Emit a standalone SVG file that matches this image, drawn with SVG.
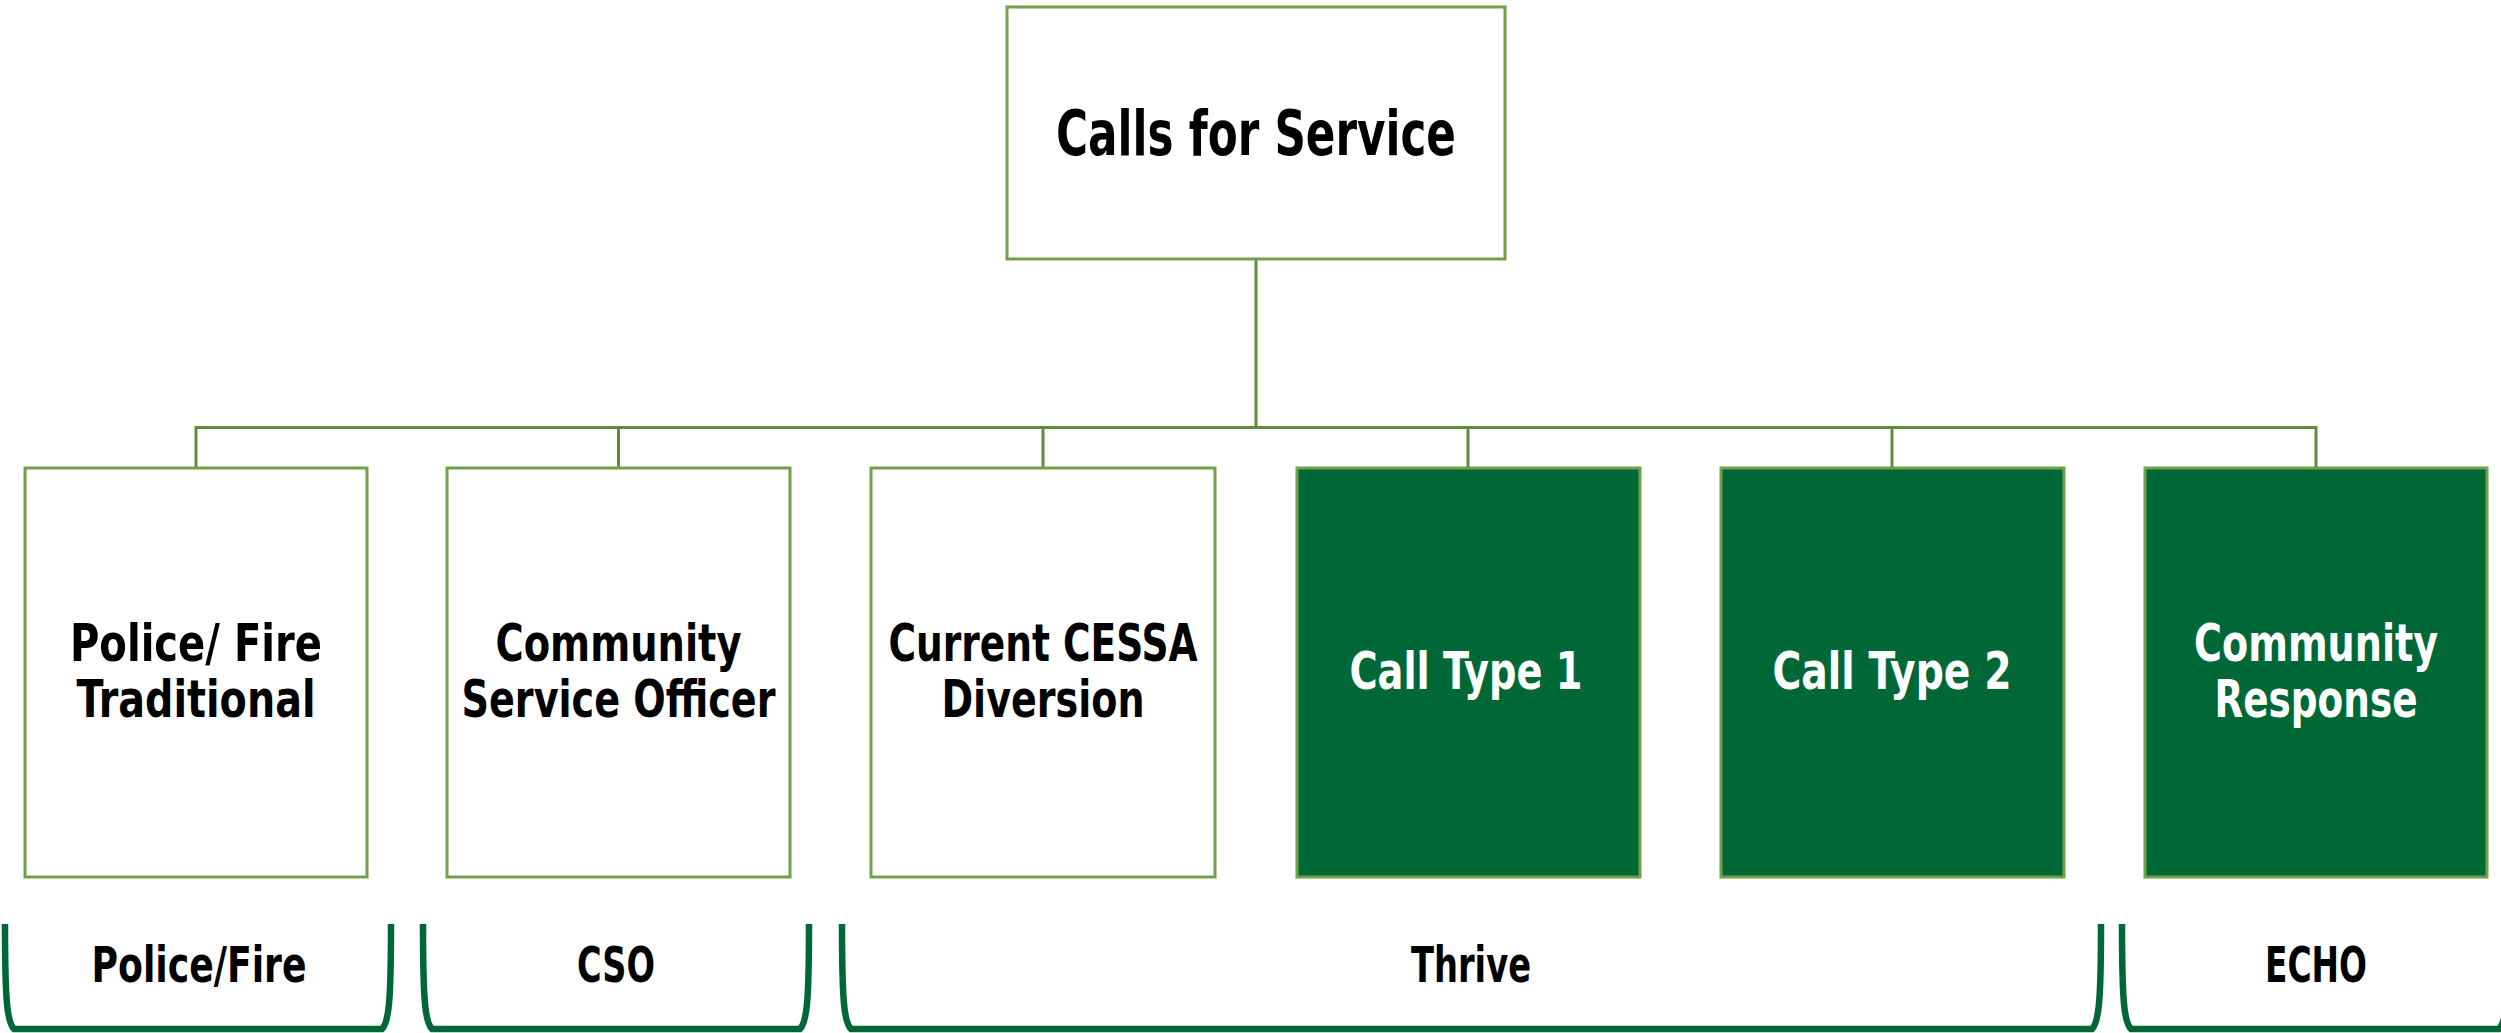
<svg xmlns="http://www.w3.org/2000/svg" width="2501" height="1033" viewBox="0 0 2501 1033">
<style>
  .box { fill: #ffffff; stroke: #6FA14A; stroke-width: 3; }
  .dark { fill: #006837; stroke: #6FA14A; stroke-width: 3; }
  .conn { fill: none; stroke: #5B8F3A; stroke-width: 3; }
  .brace { fill: none; stroke: #006837; stroke-width: 6.5; }
  text { font-family: "Liberation Sans Narrow", "DejaVu Sans Condensed", "Liberation Sans", sans-serif; font-weight: bold; text-anchor: middle; }
  .t-top { font-size: 63px; fill: #000000; }
  .t-node { font-size: 52px; fill: #000000; }
  .t-nodew { font-size: 52px; fill: #ffffff; }
  .t-lab { font-size: 49px; fill: #000000; }
</style>
<rect width="2501" height="1033" fill="#ffffff"/>
<g id="connectors">
  <path class="conn" d="M1256,259 V427.5"/>
  <path class="conn" d="M196,468 V427.5 H2316 V468"/>
  <path class="conn" d="M618.5,427.5 V468"/>
  <path class="conn" d="M1043,427.5 V468"/>
  <path class="conn" d="M1468,427.5 V468"/>
  <path class="conn" d="M1892,427.5 V468"/>
</g>
<g id="node-calls">
  <rect class="box" x="1007" y="7" width="498" height="252"/>
  <text class="t-top" x="1256" y="155" textLength="400" lengthAdjust="spacingAndGlyphs">Calls for Service</text>
</g>
<g id="node-police">
  <rect class="box" x="25" y="468" width="342" height="409"/>
  <text class="t-node" x="196" y="661" textLength="252" lengthAdjust="spacingAndGlyphs">Police/ Fire</text>
  <text class="t-node" x="196" y="717" textLength="239" lengthAdjust="spacingAndGlyphs">Traditional</text>
</g>
<g id="node-cso">
  <rect class="box" x="447" y="468" width="343" height="409"/>
  <text class="t-node" x="618.5" y="661" textLength="246" lengthAdjust="spacingAndGlyphs">Community</text>
  <text class="t-node" x="618.5" y="717" textLength="314" lengthAdjust="spacingAndGlyphs">Service Officer</text>
</g>
<g id="node-cessa">
  <rect class="box" x="871" y="468" width="344" height="409"/>
  <text class="t-node" x="1043" y="661" textLength="309" lengthAdjust="spacingAndGlyphs">Current CESSA</text>
  <text class="t-node" x="1043" y="717" textLength="203" lengthAdjust="spacingAndGlyphs">Diversion</text>
</g>
<g id="node-type1">
  <rect class="dark" x="1297" y="468" width="343" height="409"/>
  <text class="t-nodew" x="1466" y="689" textLength="233" lengthAdjust="spacingAndGlyphs">Call Type 1</text>
</g>
<g id="node-type2">
  <rect class="dark" x="1721" y="468" width="343" height="409"/>
  <text class="t-nodew" x="1892" y="689" textLength="239" lengthAdjust="spacingAndGlyphs">Call Type 2</text>
</g>
<g id="node-echo">
  <rect class="dark" x="2145" y="468" width="342" height="409"/>
  <text class="t-nodew" x="2316" y="661" textLength="244" lengthAdjust="spacingAndGlyphs">Community</text>
  <text class="t-nodew" x="2316" y="717" textLength="203" lengthAdjust="spacingAndGlyphs">Response</text>
</g>
<g id="group-policefire">
  <path class="brace" d="M5,924 C5,1000 7,1022 14,1029 H382 C389,1022 391,1000 391,924"/>
  <text class="t-lab" x="199" y="982" textLength="215" lengthAdjust="spacingAndGlyphs">Police/Fire</text>
</g>
<g id="group-cso">
  <path class="brace" d="M423,924 C423,1000 425,1022 432,1029 H800 C807,1022 809,1000 809,924"/>
  <text class="t-lab" x="616" y="982" textLength="78" lengthAdjust="spacingAndGlyphs">CSO</text>
</g>
<g id="group-thrive">
  <path class="brace" d="M842,924 C842,1000 844,1022 851,1029 H2092 C2099,1022 2101,1000 2101,924"/>
  <text class="t-lab" x="1471" y="982" textLength="120" lengthAdjust="spacingAndGlyphs">Thrive</text>
</g>
<g id="group-echo">
  <path class="brace" d="M2122,924 C2122,1000 2124,1022 2131,1029 H2499 C2506,1022 2509,1000 2509,924"/>
  <text class="t-lab" x="2316" y="982" textLength="102" lengthAdjust="spacingAndGlyphs">ECHO</text>
</g>
</svg>
